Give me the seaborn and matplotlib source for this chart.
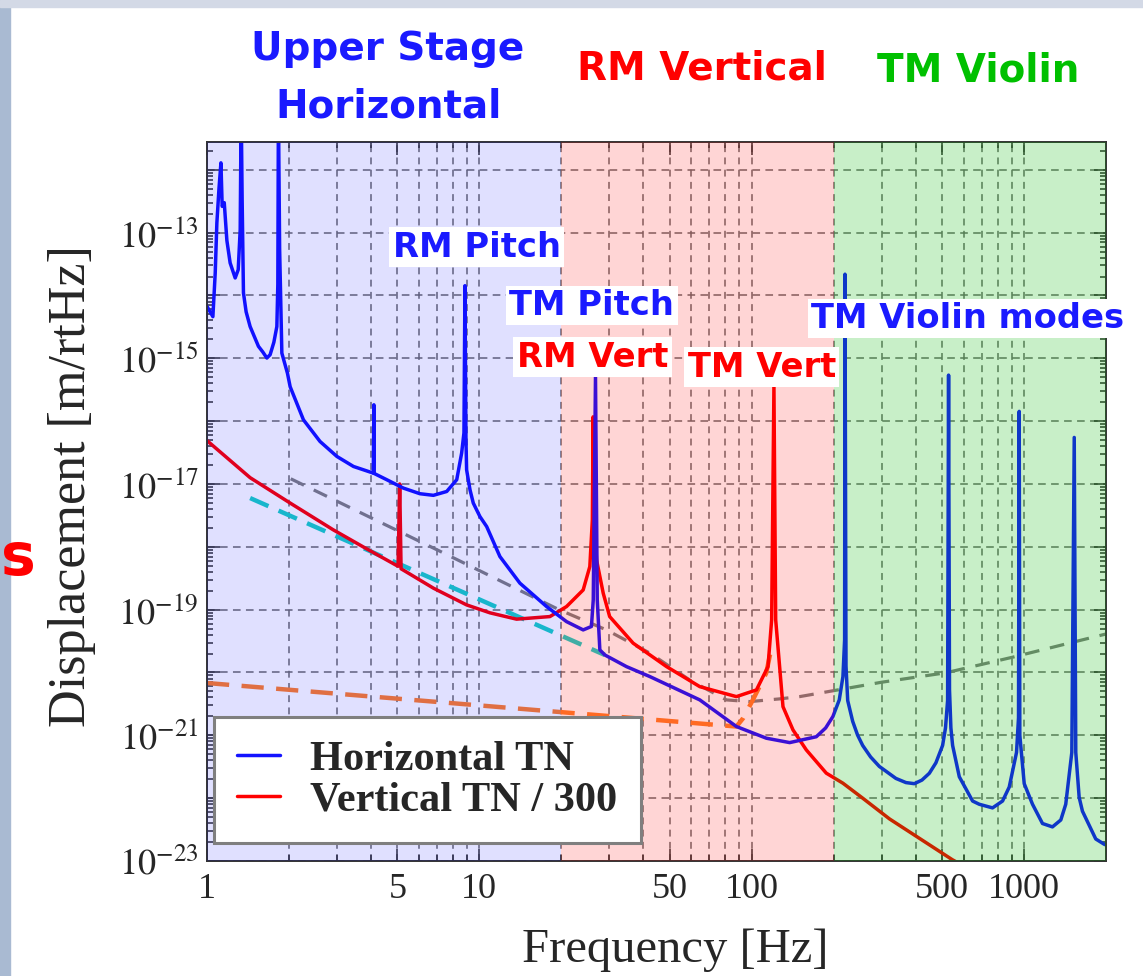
import matplotlib
matplotlib.use('Agg')
import matplotlib.pyplot as plt
from matplotlib.patches import Rectangle
from matplotlib.ticker import FixedLocator, FixedFormatter, NullFormatter
import seaborn as sns

# Horizontal thermal noise (blue)
horiz_f = [1.00, 1.051, 1.072, 1.087, 1.106, 1.125, 1.137, 1.157, 1.183, 1.216, 1.269, 1.302, 1.324,
           1.335, 1.346, 1.361, 1.392, 1.44, 1.545, 1.601, 1.659, 1.705, 1.76, 1.805, 1.82, 1.829,
           1.848, 1.883, 1.974, 2.02, 2.26, 2.60, 3.0, 3.45, 4.08, 4.10, 4.11, 4.57, 5.26, 6.05,
           6.78, 7.59, 8.26, 8.61, 8.78, 8.855, 8.93, 8.98, 9.24, 9.50, 10.05, 10.64, 11.9, 14.09,
           17.66, 20.9, 24.06, 25.8, 26.2, 26.7, 27.1, 27.7, 28.9, 34.7, 42.3, 64.5, 87.9, 113.2,
           137.9, 172.7, 186.9, 198.7, 209.7, 216.3, 219.4, 220.1, 222.0, 225.2, 234.9, 244.8, 255.6,
           273.3, 294.2, 338.6, 368.5, 395.6, 421.9, 449.1, 474.7, 502.4, 514.8, 524.1, 528.4, 532.6,
           538.9, 546.8, 578.6, 647.4, 685, 766.3, 834, 882.4, 938.6, 954.5, 960.2, 965.1, 1001.7,
           1074.5, 1169, 1272, 1365, 1423, 1498, 1529, 1549, 1594, 1639, 1834, 1969, 2000]
horiz_v = [6.7e-15, 4.6e-15, 2.28e-14, 1.43e-13, 4.84e-13, 1.29e-12, 2.62e-13, 3.0e-13, 7.5e-14, 3.3e-14,
           1.9e-14, 2.57e-14, 1.12e-13, 1e-11, 3.35e-13, 1.1e-14, 5.5e-15, 3.2e-15, 1.55e-15, 1.27e-15,
           1.01e-15, 1.14e-15, 1.8e-15, 3.2e-15, 1.5e-14, 1e-11, 5.4e-14, 1.21e-15, 5.8e-16, 3.53e-16,
           1.05e-16, 4.75e-17, 2.74e-17, 1.9e-17, 1.49e-17, 1.82e-16, 1.47e-17, 1.17e-17, 8.6e-18,
           7.0e-18, 6.6e-18, 7.6e-18, 1.17e-17, 3.1e-17, 6.5e-17, 1.43e-14, 5.1e-17, 1.68e-17, 8.1e-18,
           4.97e-18, 3.03e-18, 2.1e-18, 7.0e-19, 2.64e-19, 1.12e-19, 6.45e-20, 4.76e-20, 5.4e-20,
           1.43e-19, 5.15e-16, 1.43e-19, 2.29e-20, 1.9e-20, 1.24e-20, 8.6e-21, 3.66e-21, 1.38e-21,
           9.0e-22, 7.66e-22, 9.5e-22, 1.31e-21, 1.99e-21, 3.66e-21, 8.6e-21, 3.3e-20, 2.18e-14,
           1.27e-20, 3.58e-21, 1.67e-21, 1.01e-21, 6.9e-22, 4.53e-22, 3.2e-22, 2.06e-22, 1.77e-22,
           1.70e-22, 1.94e-22, 2.49e-22, 3.65e-22, 6.9e-22, 1.31e-21, 3.58e-21, 5.4e-16, 5.3e-21,
           1.31e-21, 6.9e-22, 2.19e-22, 9.0e-23, 8.0e-23, 7.0e-23, 9.0e-23, 1.5e-22, 5.35e-22, 1.9e-21,
           1.43e-16, 1.0e-21, 1.7e-22, 8.0e-23, 3.95e-23, 3.49e-23, 4.5e-23, 8.0e-23, 5.35e-22,
           5.5e-17, 5.35e-22, 1.03e-22, 6.2e-23, 2.24e-23, 1.85e-23, 1.8e-23]

# Vertical thermal noise / 300 (red)
vert_f = [1.0, 1.44, 2.02, 2.904, 3.805, 5.03, 5.10, 5.16, 6.78, 8.98, 10.94, 13.7, 18.16, 20.9, 24.06,
          25.45, 26.0, 26.17, 26.44, 26.94, 28.5, 30.1, 36.7, 48.7, 64.5, 87.9, 104.1, 114.8, 118.4,
          120.7, 122.5, 130.3, 141.8, 158.7, 187.9, 216.3, 256.0, 320.8, 545.2, 686]
vert_v = [4.9e-17, 1.26e-17, 4.97e-18, 1.87e-18, 9.6e-19, 4.9e-19, 1.0e-17, 4.47e-19, 2.2e-19, 1.19e-19,
          8.9e-20, 7.06e-20, 7.76e-20, 1.12e-19, 2.06e-19, 4.85e-19, 2.69e-18, 1.17e-16, 2.69e-18,
          6.2e-19, 1.83e-19, 7.76e-20, 2.93e-20, 1.24e-20, 5.95e-21, 4.13e-21, 5.28e-21, 1.24e-20,
          6.9e-20, 3.57e-16, 6.9e-20, 2.86e-21, 1.22e-21, 5.86e-22, 2.5e-22, 1.73e-22, 9.95e-23,
          4.67e-23, 1.05e-23, 6e-24]

# dashed reference curves
gray_f = [2.03, 7.17, 19.7, 29.3, 42.3, 59.2, 80.8, 98.3, 126.5, 150, 300, 516.7, 907.6, 2000]
gray_v = [1.21e-17, 8.5e-19, 9.9e-20, 4.76e-20, 2.03e-20, 7.6e-21, 3.66e-21, 3.44e-21, 3.8e-21,
          4.13e-21, 7.0e-21, 9.9e-21, 1.75e-20, 4.1e-20]
cyan_f = [1.44, 28.9]
cyan_v = [5.97e-18, 1.9e-20]
orange_f = [1.0, 87.9, 93, 101, 113, 117]
orange_v = [6.8e-21, 1.38e-21, 1.87e-21, 3.66e-21, 9.7e-21, 2.0e-20]

x_major = [1, 5, 10, 50, 100, 500, 1000]
x_minor = [2, 3, 4, 6, 7, 8, 9, 20, 30, 40, 60, 70, 80, 90, 200, 300, 400, 600, 700, 800, 900]
y_exp = list(range(-23, -11))

sns.set_theme(style='ticks')
plt.rcParams['font.family'] = ['Liberation Serif', 'DejaVu Serif']
plt.rcParams['mathtext.fontset'] = 'stix'

W, H = 1143, 976
fig = plt.figure(figsize=(W / 100, H / 100), dpi=100)
fig.patch.set_facecolor('white')
ax = fig.add_axes([207 / W, 1 - 861 / H, 899 / W, 719.3 / H])
ax.set_xscale('log')
ax.set_yscale('log')

sns.lineplot(x=horiz_f, y=horiz_v, ax=ax, color='#1414ff', lw=2.5, sort=False, estimator=None,
             label='Horizontal TN', zorder=2.3)
sns.lineplot(x=vert_f, y=vert_v, ax=ax, color='#ff0000', lw=2.5, sort=False, estimator=None,
             label='Vertical TN / 300', zorder=2.2)
sns.lineplot(x=gray_f, y=gray_v, ax=ax, color='#808080', lw=2.3, sort=False, estimator=None,
             ls=(0, (4.6, 3.4)), zorder=2.1)
sns.lineplot(x=cyan_f, y=cyan_v, ax=ax, color='#1cd0c6', lw=3.2, sort=False, estimator=None,
             ls=(0, (4.5, 2.5)), zorder=2.1)
sns.lineplot(x=orange_f, y=orange_v, ax=ax, color='#ff7f2a', lw=3.2, sort=False, estimator=None,
             ls=(0, (5, 2.8)), zorder=2.1)

# coloured bands laid over the curves
ax.axvspan(1, 20, color=(0, 0, 1), alpha=0.12, lw=0, zorder=3)
ax.axvspan(20, 200, color=(1, 0, 0), alpha=0.165, lw=0, zorder=3)
ax.axvspan(200, 2000, color=(0, 0.725, 0), alpha=0.216, lw=0, zorder=3)

ax.set_xlim(1, 2000)
ax.set_ylim(1e-23, 2.8e-12)

ax.xaxis.set_major_locator(FixedLocator(x_major))
ax.xaxis.set_major_formatter(FixedFormatter([str(v) for v in x_major]))
ax.xaxis.set_minor_locator(FixedLocator(x_minor))
ax.xaxis.set_minor_formatter(NullFormatter())
ax.yaxis.set_major_locator(FixedLocator([10.0 ** e for e in y_exp]))
ax.yaxis.set_major_formatter(FixedFormatter(
    [f'$10^{{{e}}}$' if e % 2 else '' for e in y_exp]))
ax.yaxis.set_minor_locator(FixedLocator([k * 10.0 ** e for e in y_exp for k in range(2, 10)]))
ax.yaxis.set_minor_formatter(NullFormatter())

ax.set_axisbelow(True)
ax.grid(True, which='both', axis='x', ls=(0, (4.5, 3.5)), color='#6e6e6e', lw=1.1)
ax.grid(True, which='major', axis='y', ls=(0, (5, 3.5)), color='#6e6e6e', lw=1.1)
ax.grid(False, which='minor', axis='y')

ax.tick_params(which='both', direction='in', top=True, right=True, color='#333333', width=1.1)
ax.tick_params(which='major', length=9, labelsize=26)
ax.tick_params(axis='x', which='major', pad=9)
ax.tick_params(axis='y', which='major', pad=6)
ax.tick_params(which='minor', length=4.5)
for s in ax.spines.values():
    s.set_color('#333333')
    s.set_linewidth(1.4)

ax.set_xlabel('Frequency [Hz]', fontsize=35)
ax.set_ylabel('Displacement [m/rtHz]', fontsize=37.5)
ax.xaxis.label.set_va('center')
ax.yaxis.label.set_va('center')
ax.xaxis.set_label_coords((675 - 207) / 899, (861 - 950) / 719.3)
ax.yaxis.set_label_coords((72 - 207) / 899, (861 - 486) / 719.3)

leg = ax.legend(ax.lines[:2], ['Horizontal TN', 'Vertical TN / 300'], loc='lower left',
                bbox_to_anchor=(0.008, 0.025), borderaxespad=0, fancybox=False, framealpha=1,
                edgecolor='#7f7f7f', prop=dict(family='Liberation Serif', weight='bold', size=30.5),
                handlelength=1.0, handletextpad=0.72, borderpad=0.55, labelspacing=0.05)
leg.get_frame().set_linewidth(2.2)
leg.set_zorder(6)


def fpos(x, y):
    return x / W, 1 - y / H


head = dict(family='DejaVu Sans', fontweight='bold', fontsize=28, ha='center', va='baseline')
fig.text(*fpos(387.5, 60), 'Upper Stage', color='#1a1aff', **head)
fig.text(*fpos(388.5, 118), 'Horizontal', color='#1a1aff', **head)
fig.text(*fpos(701.5, 79), 'RM Vertical', color='#ff0000', **head)
fig.text(*fpos(977.7, 81), 'TM Violin', color='#00c000', **head)

tag = dict(family='DejaVu Sans', fontweight='bold', fontsize=24.3, ha='center', va='baseline',
           zorder=10, bbox=dict(facecolor='white', edgecolor='none', pad=2.5))
fig.text(*fpos(476.7, 256.7), 'RM Pitch', color='#1a1aff', **tag)
fig.text(*fpos(591.7, 315), 'TM Pitch', color='#1a1aff', **tag)
fig.text(*fpos(592.5, 366.7), 'RM Vert', color='#ff0000', **tag)
fig.text(*fpos(761.8, 376.7), 'TM Vert', color='#ff0000', **tag)
fig.text(*fpos(968, 328), 'TM Violin modes', color='#1a1aff', **tag)

# slide leftovers around the figure
fig.patches.append(Rectangle((0, 0), 10 / W, 1, transform=fig.transFigure, color='#a9bad2', zorder=0))
fig.patches.append(Rectangle((0, 1 - 7 / H), 1, 7 / H, transform=fig.transFigure, color='#d3d9e6', zorder=0))
fig.text(*fpos(18, 575), 's', color='#ff0000', family='DejaVu Sans', fontweight='bold', fontsize=42,
         ha='center', va='baseline')

fig.savefig('out.png', dpi=100)
